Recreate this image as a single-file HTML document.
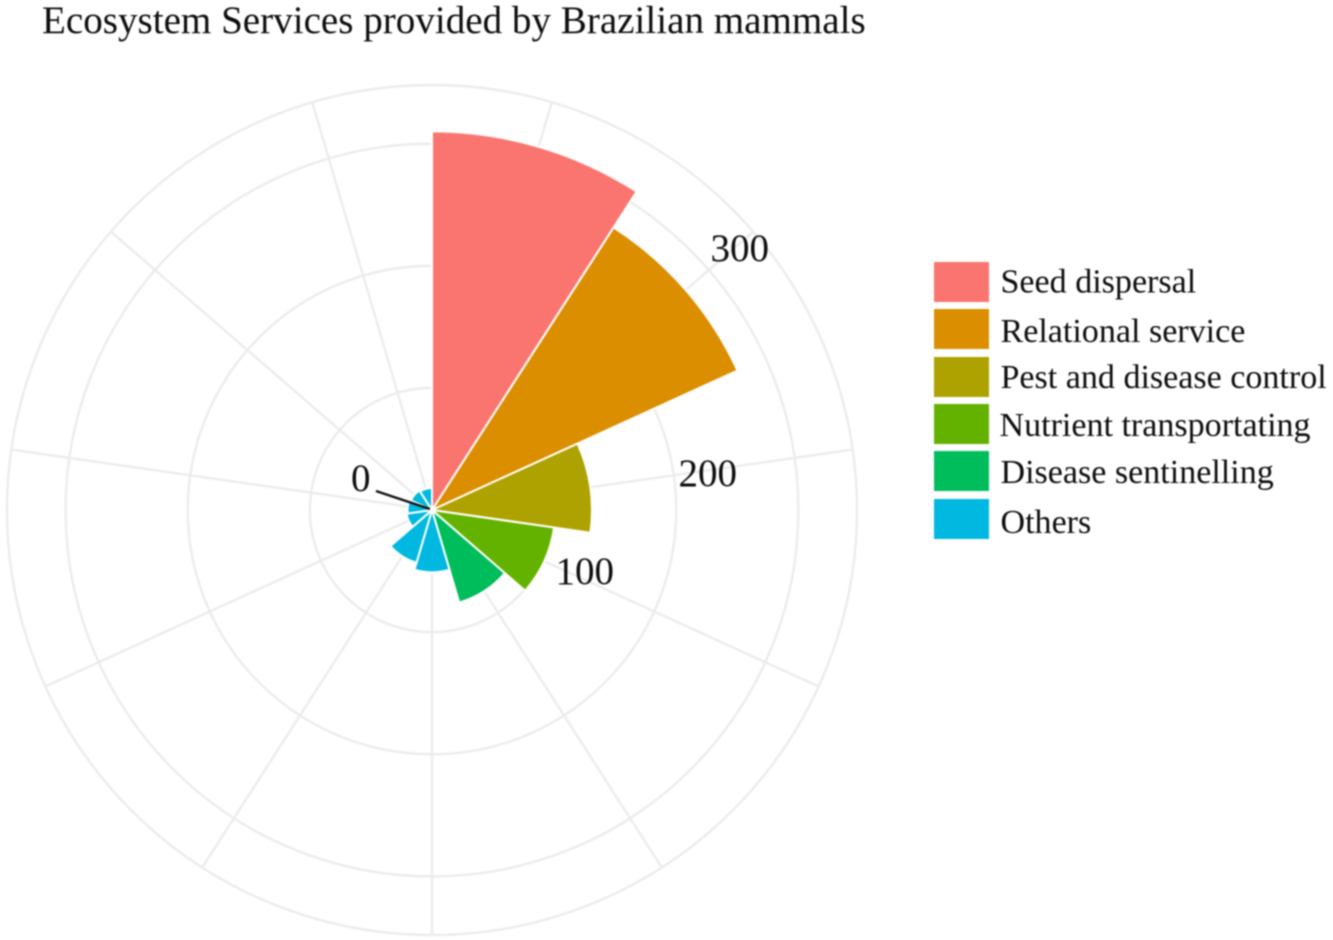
<!DOCTYPE html>
<html lang="en">
<head>
<meta charset="utf-8">
<title>Ecosystem Services provided by Brazilian mammals</title>
<style>
html,body{margin:0;padding:0;background:#fff;width:1333px;height:940px;overflow:hidden}
svg{display:block;filter:blur(0.7px)}
text{font-family:"Liberation Serif","Times New Roman",serif;fill:#0d0d0d}
</style>
</head>
<body>
<svg id="chart" xmlns="http://www.w3.org/2000/svg" width="1333" height="940" viewBox="0 0 1333 940">
  <rect width="1333" height="940" fill="#fff"/>
  <text x="42" y="33" font-size="39.1">Ecosystem Services provided by Brazilian mammals</text>
  <g id="grid"></g>
  <g id="bars"></g>
  <g id="ticks"></g>
  <g id="legend"></g>
</svg>
<script>
// Chart data
const barServices = ["Seed dispersal","Relational service","Pest and disease control","Nutrient transportating","Disease sentinelling","Others","Others","Others","Others","Others","Others"];
const barValues = [310,275,131,101,79,51,45,21,20,19,18];
const legendLabels = ["Seed dispersal","Relational service","Pest and disease control","Nutrient transportating","Disease sentinelling","Others"];
const legendColors = ["#FA756F","#DB8E00","#AEA200","#64B200","#00BD5C","#00B8E0"];
const gridTicks = [100,200,300];
const axisMax = 348;

const SVG_NS = "http://www.w3.org/2000/svg";
const cx = 432, cy = 510, outerR = 425;
const rScale = v => v / axisMax * outerR;
const aScale = i => i * 2 * Math.PI / barValues.length;
const px = (r, a) => cx + r * Math.sin(a);
const py = (r, a) => cy - r * Math.cos(a);
const make = (tag, parent) => { const el = document.createElementNS(SVG_NS, tag); parent.appendChild(el); return el; };

// Grid circles
const gridG = document.getElementById("grid");
gridTicks.concat([axisMax]).forEach(t => {
  const c = make("circle", gridG);
  
  
  c.setAttribute("cx", cx);
  c.setAttribute("cy", cy);
  c.setAttribute("r", rScale(t));
  c.setAttribute("fill", "none");
  c.setAttribute("stroke", "#ececec");
  c.setAttribute("stroke-width", "2.4");
});

// Spokes at each bar centre
barValues.forEach((v, i) => {
  const a = aScale(i + 0.5);
  const l = make("line", gridG);
  
  
  l.setAttribute("x1", cx);
  l.setAttribute("y1", cy);
  l.setAttribute("x2", px(outerR, a));
  l.setAttribute("y2", py(outerR, a));
  l.setAttribute("stroke", "#ececec");
  l.setAttribute("stroke-width", "2.4");
});

// Bars
const barsG = document.getElementById("bars");
barValues.forEach((v, i) => {
  const a0 = aScale(i), a1 = aScale(i + 1), r = rScale(v);
  const p = make("path", barsG);
  
  
  p.setAttribute("d", "M" + cx + " " + cy + "L" + px(r, a0) + " " + py(r, a0) + "A" + r + " " + r + " 0 0 1 " + px(r, a1) + " " + py(r, a1) + "Z");
  p.setAttribute("fill", legendColors[legendLabels.indexOf(barServices[i])]);
  p.setAttribute("stroke", "#fff");
  p.setAttribute("stroke-width", "2");
  p.setAttribute("stroke-linejoin", "miter");
});

// Radial axis labels (hand-placed annotations from the source figure)
const ticksG = document.getElementById("ticks");
const tickLabels = ["0","100","200","300"];
const tickLabelX = [351,555.5,678.5,710.5];
const tickLabelY = [491,584,486,261];
tickLabels.forEach((t, i) => {
  const el = make("text", ticksG);
  
  
  el.setAttribute("x", tickLabelX[i]);
  el.setAttribute("y", tickLabelY[i]);
  el.setAttribute("font-size", "39");
  el.textContent = t;
});
const zeroLine = make("line", ticksG);


zeroLine.setAttribute("x1", 376);
zeroLine.setAttribute("y1", 491);
zeroLine.setAttribute("x2", 430);
zeroLine.setAttribute("y2", 509);
zeroLine.setAttribute("stroke", "#111");
zeroLine.setAttribute("stroke-width", "2.4");

// Legend
const legendG = document.getElementById("legend");
const swatchTop = [262,309,357,404,451,499];
const textBase = [292.5,342,388,436,483,533];
legendLabels.forEach((t, i) => {
  const s = make("rect", legendG);
  
  
  s.setAttribute("x", 934);
  s.setAttribute("y", swatchTop[i]);
  s.setAttribute("width", 55);
  s.setAttribute("height", 40);
  s.setAttribute("fill", legendColors[i]);
  const el = make("text", legendG);
  
  
  el.setAttribute("x", i === 3 ? 999.5 : 1000.5);
  el.setAttribute("y", textBase[i]);
  el.setAttribute("font-size", "34.05");
  el.textContent = t;
});
</script>
</body>
</html>
